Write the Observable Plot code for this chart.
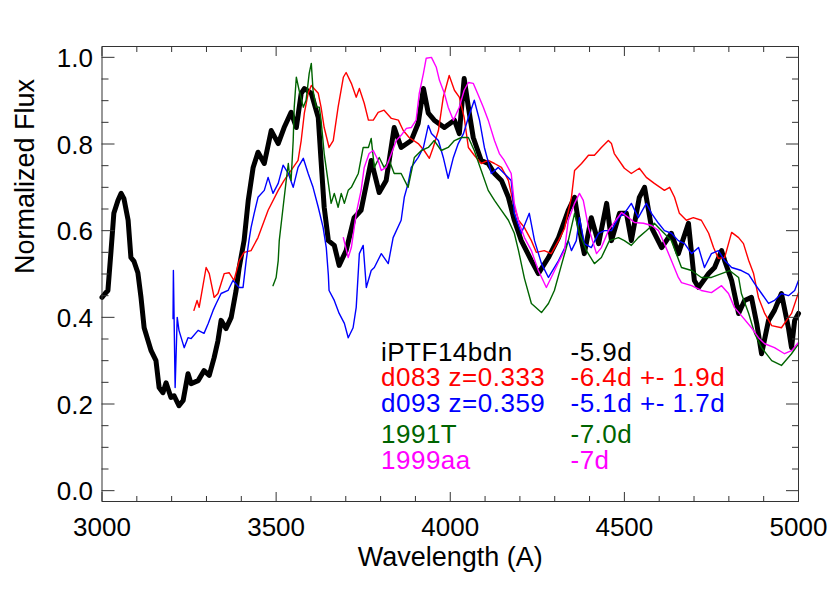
<!DOCTYPE html>
<html>
<head>
<meta charset="utf-8">
<script src="https://cdn.jsdelivr.net/npm/d3@7"></script>
<script src="https://cdn.jsdelivr.net/npm/@observablehq/plot@0.6"></script>
<style>
  html, body { margin: 0; padding: 0; background: white; }
  #chart { width: 830px; height: 593px; }
</style>
</head>
<body>
<div id="chart"></div>
<script>
// ---- Data (wavelength in Angstrom, normalized flux) ----
const iptf14bdn = [
  [3000,0.446],[3009,0.455],[3017,0.462],[3026,0.554],[3034,0.640],[3046,0.670],[3055,0.686],[3063,0.674],
  [3075,0.624],[3083,0.538],[3092,0.529],[3103,0.503],[3112,0.446],[3121,0.376],[3141,0.323],[3155,0.300],
  [3164,0.238],[3175,0.226],[3184,0.249],[3198,0.215],[3207,0.219],[3221,0.196],[3233,0.208],[3247,0.270],
  [3256,0.247],[3276,0.254],[3293,0.277],[3308,0.266],[3322,0.307],[3333,0.346],[3342,0.393],[3356,0.374],
  [3371,0.400],[3385,0.462],[3394,0.515],[3408,0.577],[3420,0.670],[3434,0.746],[3448,0.781],[3466,0.755],
  [3486,0.831],[3506,0.801],[3523,0.838],[3543,0.873],[3558,0.838],[3572,0.917],[3581,0.928],[3601,0.917],
  [3621,0.861],[3629,0.762],[3638,0.654],[3650,0.577],[3667,0.566],[3681,0.520],[3701,0.554],[3724,0.630],
  [3744,0.647],[3773,0.762],[3796,0.688],[3816,0.716],[3839,0.838],[3859,0.792],[3888,0.808],[3908,0.848],
  [3923,0.928],[3937,0.871],[3954,0.855],[3983,0.838],[4012,0.855],[4026,0.824],[4040,0.951],[4052,0.885],
  [4066,0.815],[4089,0.762],[4109,0.755],[4127,0.732],[4147,0.716],[4167,0.677],[4184,0.624],[4204,0.577],
  [4233,0.531],[4253,0.501],[4282,0.538],[4311,0.584],[4339,0.647],[4357,0.677],[4377,0.577],[4385,0.547],
  [4405,0.630],[4426,0.570],[4449,0.663],[4463,0.577],[4486,0.640],[4506,0.640],[4520,0.577],[4543,0.677],
  [4558,0.700],[4578,0.607],[4607,0.561],[4635,0.594],[4655,0.547],[4684,0.617],[4701,0.485],[4713,0.469],
  [4742,0.501],[4759,0.515],[4779,0.554],[4788,0.531],[4808,0.485],[4828,0.409],[4845,0.439],[4865,0.446],
  [4880,0.386],[4894,0.316],[4914,0.393],[4931,0.416],[4951,0.455],[4971,0.376],[4980,0.330],[4989,0.393],
  [5000,0.409]
];
const d083 = [
  [3264,0.416],[3273,0.439],[3279,0.423],[3299,0.515],[3308,0.501],[3322,0.446],[3333,0.455],[3351,0.501],
  [3365,0.503],[3379,0.485],[3394,0.531],[3408,0.550],[3428,0.554],[3448,0.584],[3477,0.647],[3506,0.693],
  [3523,0.716],[3543,0.739],[3563,0.762],[3572,0.808],[3581,0.871],[3592,0.917],[3601,0.935],[3621,0.917],
  [3629,0.885],[3638,0.838],[3652,0.792],[3664,0.808],[3678,0.885],[3693,0.954],[3701,0.965],[3716,0.940],
  [3730,0.908],[3739,0.928],[3753,0.894],[3765,0.855],[3779,0.855],[3793,0.873],[3810,0.878],[3831,0.859],
  [3851,0.855],[3865,0.831],[3882,0.815],[3908,0.801],[3925,0.785],[3940,0.767],[3951,0.792],[3966,0.831],
  [3980,0.908],[3997,0.958],[4012,0.924],[4026,0.908],[4040,0.861],[4052,0.792],[4069,0.774],[4089,0.755],
  [4109,0.762],[4127,0.755],[4147,0.746],[4167,0.716],[4181,0.663],[4196,0.624],[4213,0.607],[4233,0.577],
  [4247,0.550],[4270,0.554],[4290,0.547],[4311,0.577],[4328,0.605],[4348,0.677],[4357,0.739],[4377,0.755],
  [4397,0.774],[4414,0.774],[4434,0.792],[4454,0.808],[4463,0.801],[4471,0.778],[4500,0.744],[4520,0.732],
  [4543,0.744],[4563,0.723],[4586,0.709],[4615,0.693],[4630,0.700],[4644,0.677],[4658,0.640],[4678,0.624],
  [4698,0.630],[4721,0.624],[4742,0.594],[4756,0.561],[4770,0.536],[4788,0.538],[4808,0.596],[4828,0.584],
  [4842,0.570],[4857,0.531],[4871,0.501],[4885,0.446],[4903,0.409],[4923,0.381],[4951,0.376],[4980,0.409],
  [5000,0.457]
];
const d093 = [
  [3204,0.397],[3205,0.508],[3210,0.238],[3216,0.400],[3221,0.370],[3236,0.330],[3247,0.353],[3256,0.351],
  [3276,0.370],[3293,0.363],[3305,0.386],[3319,0.416],[3328,0.432],[3342,0.455],[3362,0.462],[3376,0.485],
  [3394,0.469],[3405,0.469],[3414,0.531],[3422,0.577],[3428,0.607],[3437,0.640],[3448,0.677],[3466,0.693],
  [3477,0.723],[3491,0.686],[3506,0.709],[3520,0.751],[3535,0.732],[3549,0.700],[3563,0.746],[3578,0.767],
  [3592,0.732],[3606,0.700],[3621,0.654],[3635,0.607],[3644,0.561],[3650,0.497],[3652,0.462],[3667,0.439],
  [3681,0.409],[3696,0.386],[3707,0.353],[3721,0.376],[3730,0.423],[3739,0.547],[3750,0.566],[3759,0.469],
  [3773,0.508],[3782,0.515],[3802,0.547],[3822,0.524],[3836,0.584],[3859,0.624],[3868,0.677],[3879,0.709],
  [3888,0.746],[3908,0.769],[3923,0.792],[3937,0.843],[3946,0.824],[3966,0.808],[3980,0.769],[3994,0.721],
  [4009,0.769],[4023,0.801],[4038,0.824],[4052,0.861],[4069,0.901],[4084,0.855],[4098,0.792],[4118,0.732],
  [4138,0.746],[4155,0.732],[4175,0.716],[4184,0.640],[4204,0.594],[4227,0.640],[4242,0.577],[4262,0.524],
  [4282,0.492],[4311,0.531],[4339,0.577],[4348,0.554],[4362,0.577],[4371,0.630],[4385,0.570],[4405,0.561],
  [4426,0.594],[4443,0.600],[4463,0.600],[4483,0.630],[4500,0.640],[4520,0.663],[4540,0.630],[4563,0.663],
  [4578,0.640],[4598,0.617],[4615,0.600],[4635,0.594],[4655,0.577],[4673,0.570],[4693,0.547],[4713,0.561],
  [4730,0.515],[4750,0.547],[4770,0.554],[4788,0.531],[4808,0.515],[4836,0.508],[4857,0.499],[4874,0.478],
  [4894,0.455],[4914,0.432],[4931,0.439],[4951,0.455],[4971,0.450],[4989,0.462],[5000,0.485]
];
const sn1991T = [
  [3491,0.473],[3500,0.492],[3506,0.531],[3509,0.577],[3520,0.654],[3529,0.716],[3535,0.755],[3537,0.739],
  [3543,0.716],[3549,0.808],[3552,0.885],[3558,0.954],[3566,0.924],[3578,0.885],[3586,0.901],[3595,0.963],
  [3601,0.986],[3606,0.924],[3615,0.885],[3624,0.885],[3629,0.855],[3638,0.778],[3650,0.709],[3658,0.663],
  [3667,0.686],[3678,0.654],[3687,0.686],[3696,0.663],[3707,0.693],[3716,0.700],[3736,0.732],[3750,0.792],
  [3765,0.792],[3773,0.813],[3782,0.746],[3796,0.769],[3810,0.746],[3825,0.762],[3839,0.732],[3859,0.732],
  [3879,0.700],[3897,0.769],[3917,0.785],[3937,0.792],[3954,0.808],[3974,0.785],[3994,0.792],[4012,0.808],
  [4032,0.815],[4052,0.815],[4069,0.785],[4089,0.739],[4109,0.693],[4127,0.670],[4147,0.647],[4167,0.624],
  [4184,0.594],[4196,0.554],[4213,0.490],[4233,0.432],[4262,0.411],[4282,0.432],[4299,0.462],[4319,0.520],
  [4339,0.577],[4357,0.640],[4371,0.594],[4391,0.554],[4414,0.524],[4434,0.538],[4457,0.577],[4483,0.584],
  [4500,0.577],[4520,0.566],[4540,0.584],[4563,0.600],[4586,0.617],[4607,0.600],[4635,0.577],[4664,0.515],
  [4693,0.508],[4721,0.492],[4750,0.492],[4779,0.501],[4802,0.508],[4828,0.492],[4836,0.455],[4857,0.409],
  [4874,0.363],[4894,0.330],[4923,0.300],[4951,0.289],[4980,0.316],[5000,0.339]
];
const sn1999aa = [
  [3693,0.584],[3707,0.538],[3716,0.561],[3730,0.640],[3744,0.693],[3753,0.746],[3767,0.778],[3779,0.785],
  [3793,0.762],[3802,0.739],[3816,0.746],[3831,0.778],[3845,0.808],[3859,0.820],[3874,0.836],[3888,0.838],
  [3902,0.855],[3911,0.917],[3923,0.963],[3931,0.998],[3946,1.000],[3960,0.977],[3969,0.947],[3983,0.917],
  [3994,0.885],[4009,0.855],[4026,0.885],[4040,0.924],[4052,0.942],[4066,0.940],[4081,0.912],[4095,0.885],
  [4109,0.855],[4127,0.808],[4141,0.778],[4155,0.762],[4175,0.732],[4184,0.663],[4198,0.617],[4213,0.584],
  [4233,0.554],[4253,0.508],[4276,0.469],[4290,0.492],[4311,0.527],[4328,0.554],[4339,0.624],[4357,0.663],
  [4371,0.686],[4382,0.670],[4397,0.607],[4411,0.570],[4420,0.547],[4434,0.561],[4454,0.600],[4471,0.619],
  [4492,0.642],[4512,0.630],[4529,0.619],[4555,0.617],[4578,0.612],[4598,0.600],[4615,0.570],[4635,0.531],
  [4655,0.492],[4664,0.480],[4693,0.473],[4721,0.462],[4750,0.457],[4779,0.473],[4799,0.455],[4816,0.423],
  [4836,0.404],[4865,0.376],[4885,0.353],[4903,0.339],[4931,0.330],[4960,0.316],[4980,0.323],[5000,0.342]
];

const seriesNames  = ["iPTF14bdn", "d083 z=0.333", "d093 z=0.359", "1991T", "1999aa"];
const seriesPhases = ["-5.9d", "-6.4d +- 1.9d", "-5.1d +- 1.7d", "-7.0d", "-7d"];
const seriesColors = ["#000000", "#ff0000", "#0000ff", "#006400", "#ff00ff"];
const seriesData   = [iptf14bdn, d083, d093, sn1991T, sn1999aa];

const xMajorTicks = [3000, 3500, 4000, 4500, 5000];
const xMinorTicks = [3100, 3200, 3300, 3400, 3600, 3700, 3800, 3900, 4100, 4200, 4300, 4400, 4600, 4700, 4800, 4900];
const yMajorTicks = [0.0, 0.2, 0.4, 0.6, 0.8, 1.0];
const yMinorTicks = [0.05, 0.1, 0.15, 0.25, 0.3, 0.35, 0.45, 0.5, 0.55, 0.65, 0.7, 0.75, 0.85, 0.9, 0.95];

const xTitle = "Wavelength (A)";
const yTitle = "Normalized Flux";

// ---- Layout ----
const FONT = "'Liberation Sans', Arial, Helvetica, sans-serif";
const axisColor = "#333";
const legendRowDy = [314, 339.5, 365.5, 396, 422];
const legendCol1Dx = 279;
const legendCol2Dx = 468.5;

const lineMarks = seriesData.map((d, i) => Plot.line(d, {
  x: p => p[0], y: p => p[1],
  stroke: seriesColors[i],
  strokeWidth: i === 0 ? 5 : 1.4,
  strokeLinejoin: "round",
  strokeLinecap: "round"
}));

const legendMarks = seriesNames.flatMap((name, i) => [
  Plot.text([name], {frameAnchor: "top-left", dx: legendCol1Dx, dy: legendRowDy[i], fill: seriesColors[i],
    textAnchor: "start", lineAnchor: "bottom", fontSize: 26, fontFamily: FONT}),
  Plot.text([seriesPhases[i]], {frameAnchor: "top-left", dx: legendCol2Dx, dy: legendRowDy[i], fill: seriesColors[i],
    textAnchor: "start", lineAnchor: "bottom", fontSize: 26, fontFamily: FONT})
]);

const tickAxes = [
  Plot.axisX(xMajorTicks, {anchor: "bottom", tickSize: -9, fill: "none", stroke: axisColor, label: null}),
  Plot.axisX(xMinorTicks, {anchor: "bottom", tickSize: -5, fill: "none", stroke: axisColor, label: null}),
  Plot.axisX(xMajorTicks, {anchor: "top", tickSize: -9, fill: "none", stroke: axisColor, label: null}),
  Plot.axisX(xMinorTicks, {anchor: "top", tickSize: -5, fill: "none", stroke: axisColor, label: null}),
  Plot.axisY(yMajorTicks, {anchor: "left", tickSize: -13, fill: "none", stroke: axisColor, label: null}),
  Plot.axisY(yMinorTicks, {anchor: "left", tickSize: -7, fill: "none", stroke: axisColor, label: null}),
  Plot.axisY(yMajorTicks, {anchor: "right", tickSize: -13, fill: "none", stroke: axisColor, label: null}),
  Plot.axisY(yMinorTicks, {anchor: "right", tickSize: -7, fill: "none", stroke: axisColor, label: null}),
  Plot.axisX(xMajorTicks, {anchor: "bottom", tickSize: 0, tickPadding: 16, tickFormat: d => String(d),
    fontSize: 26, fontFamily: FONT, fill: "black", label: null}),
  Plot.axisY(yMajorTicks, {anchor: "left", tickSize: 0, tickPadding: 9, dy: 1.5, tickFormat: d3.format(".1f"),
    fontSize: 26, fontFamily: FONT, fill: "black", label: null})
];

const chart = Plot.plot({
  width: 830,
  height: 593,
  marginLeft: 101.5,
  marginRight: 32,
  marginTop: 46,
  marginBottom: 92,
  x: {domain: [3000, 5000]},
  y: {domain: [-0.025, 1.025]},
  style: {fontFamily: FONT, background: "white", color: "black", overflow: "visible"},
  marks: [
    ...lineMarks,
    Plot.frame({stroke: axisColor, strokeWidth: 1}),
    ...tickAxes,
    ...legendMarks,
    Plot.text([xTitle], {frameAnchor: "bottom", dy: 64, lineAnchor: "bottom", fontSize: 27, fontFamily: FONT, fill: "black"}),
    Plot.text([yTitle], {frameAnchor: "left", dx: -68.5, rotate: -90, lineAnchor: "bottom", fontSize: 27, fontFamily: FONT, fill: "black"})
  ]
});

// Slightly wider letter spacing for the legend, as in the original rendering
const legendStrings = new Set([...seriesNames, ...seriesPhases]);
d3.select(chart).selectAll("text")
  .filter(function () { return legendStrings.has(this.textContent); })
  .style("letter-spacing", "0.5px");

document.getElementById("chart").appendChild(chart);
</script>
</body>
</html>
